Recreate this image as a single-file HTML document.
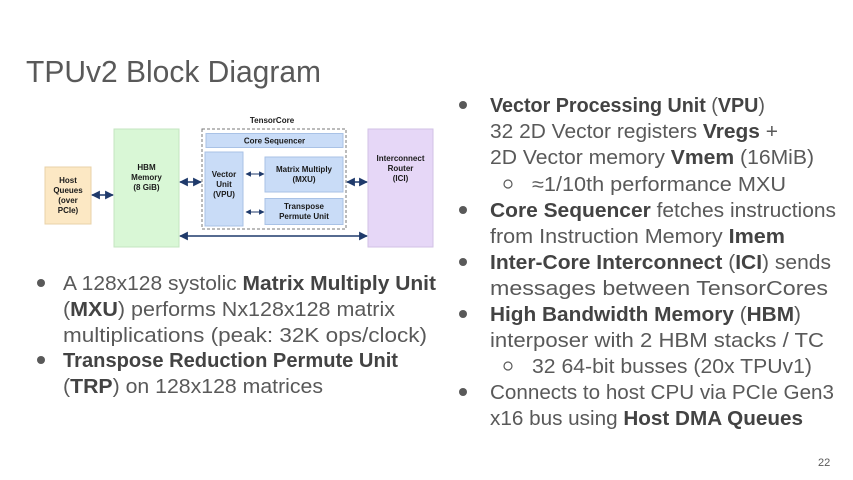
<!DOCTYPE html>
<html><head><meta charset="utf-8"><style>
html,body{margin:0;padding:0;background:#fff;}
svg{display:block;}
.t{font-family:"Liberation Sans",Arial,sans-serif;fill:#595959;font-size:20px;}
.b{font-weight:bold;fill:#434343;}
.d{font-family:"Liberation Sans",Arial,sans-serif;font-size:8px;font-weight:bold;fill:#1a1a1a;text-anchor:middle;}
</style></head><body>
<svg width="853" height="480" viewBox="0 0 853 480" xmlns="http://www.w3.org/2000/svg">
<defs>
<marker id="a" viewBox="0 0 10 10" refX="9" refY="5" markerWidth="5.5" markerHeight="5.5" orient="auto-start-reverse"><path d="M0,0L10,5L0,10z" fill="#1f3a6b"/></marker>
</defs>
<text x="26" y="82" class="t" style="font-size:31px" textLength="295" lengthAdjust="spacingAndGlyphs">TPUv2 Block Diagram</text>

<!-- diagram -->
<rect x="45" y="167" width="46" height="57" fill="#fce8c4" stroke="#e8d2a8"/>
<text class="d"><tspan x="68" y="183">Host</tspan><tspan x="68" y="193">Queues</tspan><tspan x="68" y="203">(over</tspan><tspan x="68" y="213">PCIe)</tspan></text>
<rect x="114" y="129" width="65" height="118" fill="#d9f7d6" stroke="#c4e6c0"/>
<text class="d"><tspan x="146.5" y="170">HBM</tspan><tspan x="146.5" y="180">Memory</tspan><tspan x="146.5" y="190">(8 GiB)</tspan></text>
<text class="d" x="272" y="123">TensorCore</text>
<rect x="202" y="129" width="144" height="100" fill="none" stroke="#777" stroke-dasharray="3,2"/>
<rect x="206" y="133.5" width="137" height="14" fill="#c9dcf7" stroke="#a9c2e6"/>
<text class="d" x="274.5" y="143.5">Core Sequencer</text>
<rect x="205" y="152" width="38" height="74" fill="#c9dcf7" stroke="#a9c2e6"/>
<text class="d"><tspan x="224" y="177">Vector</tspan><tspan x="224" y="187">Unit</tspan><tspan x="224" y="197">(VPU)</tspan></text>
<rect x="265" y="157" width="78" height="35" fill="#c9dcf7" stroke="#a9c2e6"/>
<text class="d"><tspan x="304" y="172">Matrix Multiply</tspan><tspan x="304" y="182">(MXU)</tspan></text>
<rect x="265" y="198.5" width="78" height="26" fill="#c9dcf7" stroke="#a9c2e6"/>
<text class="d"><tspan x="304" y="209">Transpose</tspan><tspan x="304" y="219">Permute Unit</tspan></text>
<rect x="368" y="129" width="65" height="118" fill="#e6d7f7" stroke="#d2c2e6"/>
<text class="d"><tspan x="400.5" y="161">Interconnect</tspan><tspan x="400.5" y="171">Router</tspan><tspan x="400.5" y="181">(ICI)</tspan></text>
<g stroke="#1f3a6b" stroke-width="1.6" marker-start="url(#a)" marker-end="url(#a)">
<line x1="92" y1="195" x2="113" y2="195"/>
<line x1="180" y1="182" x2="201" y2="182"/>
<line x1="347" y1="182" x2="367" y2="182"/>
<line x1="180" y1="236" x2="367" y2="236"/>
<line x1="246" y1="174" x2="264" y2="174" stroke-width="1"/>
<line x1="246" y1="212" x2="264" y2="212" stroke-width="1"/>
</g>

<!-- left bullets -->
<circle cx="41" cy="283" r="4" fill="#595959"/>
<circle cx="41" cy="360" r="4" fill="#595959"/>
<text x="63" y="290" class="t" textLength="373" lengthAdjust="spacingAndGlyphs">A 128x128 systolic <tspan class="b">Matrix Multiply Unit</tspan></text>
<text x="63" y="316" class="t" textLength="332" lengthAdjust="spacingAndGlyphs">(<tspan class="b">MXU</tspan>) performs Nx128x128 matrix</text>
<text x="63" y="342" class="t" textLength="364" lengthAdjust="spacingAndGlyphs">multiplications (peak: 32K ops/clock)</text>
<text x="63" y="367" class="t" textLength="335" lengthAdjust="spacingAndGlyphs"><tspan class="b">Transpose Reduction Permute Unit</tspan></text>
<text x="63" y="393" class="t" textLength="260" lengthAdjust="spacingAndGlyphs">(<tspan class="b">TRP</tspan>) on 128x128 matrices</text>

<!-- right bullets -->
<circle cx="463" cy="105" r="4" fill="#595959"/>
<circle cx="463" cy="210" r="4" fill="#595959"/>
<circle cx="463" cy="262" r="4" fill="#595959"/>
<circle cx="463" cy="314" r="4" fill="#595959"/>
<circle cx="463" cy="392" r="4" fill="#595959"/>
<circle cx="508" cy="184" r="4" fill="none" stroke="#595959" stroke-width="1.2"/>
<circle cx="508" cy="366" r="4" fill="none" stroke="#595959" stroke-width="1.2"/>
<text x="490" y="112" class="t" textLength="275" lengthAdjust="spacingAndGlyphs"><tspan class="b">Vector Processing Unit</tspan> (<tspan class="b">VPU</tspan>)</text>
<text x="490" y="138" class="t" textLength="288" lengthAdjust="spacingAndGlyphs">32 2D Vector registers <tspan class="b">Vregs</tspan> +</text>
<text x="490" y="164" class="t" textLength="324" lengthAdjust="spacingAndGlyphs">2D Vector memory <tspan class="b">Vmem</tspan> (16MiB)</text>
<text x="532" y="191" class="t" textLength="254" lengthAdjust="spacingAndGlyphs">≈1/10th performance MXU</text>
<text x="490" y="217" class="t" textLength="346" lengthAdjust="spacingAndGlyphs"><tspan class="b">Core Sequencer</tspan> fetches instructions</text>
<text x="490" y="243" class="t" textLength="295" lengthAdjust="spacingAndGlyphs">from Instruction Memory <tspan class="b">Imem</tspan></text>
<text x="490" y="269" class="t" textLength="341" lengthAdjust="spacingAndGlyphs"><tspan class="b">Inter-Core Interconnect</tspan> (<tspan class="b">ICI</tspan>) sends</text>
<text x="490" y="295" class="t" textLength="338" lengthAdjust="spacingAndGlyphs">messages between TensorCores</text>
<text x="490" y="321" class="t" textLength="311" lengthAdjust="spacingAndGlyphs"><tspan class="b">High Bandwidth Memory</tspan> (<tspan class="b">HBM</tspan>)</text>
<text x="490" y="347" class="t" textLength="334" lengthAdjust="spacingAndGlyphs">interposer with 2 HBM stacks /  TC</text>
<text x="532" y="373" class="t" textLength="280" lengthAdjust="spacingAndGlyphs">32 64-bit busses (20x TPUv1)</text>
<text x="490" y="399" class="t" textLength="344" lengthAdjust="spacingAndGlyphs">Connects to host CPU via PCIe Gen3</text>
<text x="490" y="425" class="t" textLength="313" lengthAdjust="spacingAndGlyphs">x16 bus using <tspan class="b">Host DMA Queues</tspan></text>

<text x="818" y="466" class="t" style="font-size:11px">22</text>
</svg>
</body></html>
